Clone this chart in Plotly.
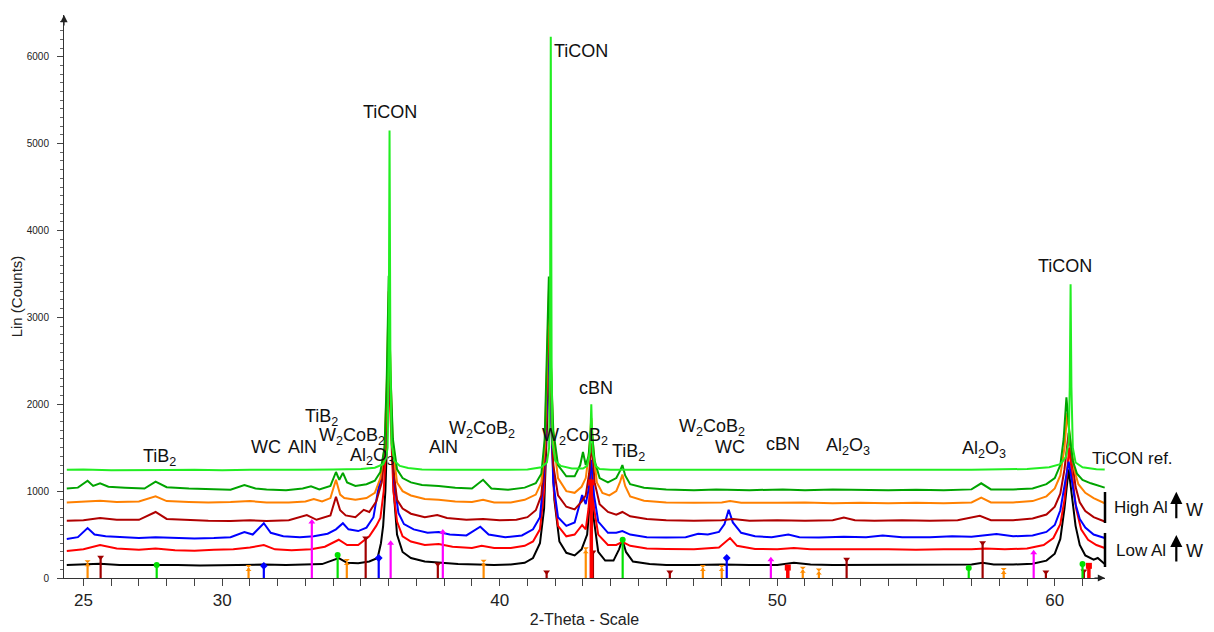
import plotly.graph_objects as go

# ---------------- data ----------------
# 2-theta (deg), counts  -- stacked XRD patterns (offset already included)
BLACK = [(24.4,150),(25.0,155),(25.6,165),(26.3,150),(27.0,150),(27.6,155),(28.4,150),(29.2,145),(30.0,150),
         (30.8,150),(31.5,155),(32.3,150),(33.0,155),(33.6,160),(34.2,230),(34.5,175),(34.9,170),(35.3,190),
         (35.6,230),(35.72,400),(35.8,600),(35.88,1000),(35.95,1700),(36.02,2500),(36.1,1800),(36.18,1000),
         (36.3,500),(36.5,300),(36.8,230),(37.3,190),(37.9,175),(38.5,160),(39.2,155),(39.8,150),(40.4,155),
         (40.9,175),(41.2,230),(41.45,400),(41.6,800),(41.7,1700),(41.8,2650),(41.88,1700),(41.97,900),
         (42.15,420),(42.4,290),(42.7,260),(42.95,330),(43.15,500),(43.28,1000),(43.38,700),(43.55,300),
         (43.8,200),(44.1,200),(44.3,330),(44.42,440),(44.55,300),(44.8,190),(45.4,160),(46.0,150),(47.0,150),
         (48.0,155),(49.0,150),(50.0,150),(50.6,175),(51.2,155),(52.0,150),(53.0,150),(54.0,150),(55.0,150),
         (56.0,150),(57.0,155),(57.4,175),(57.8,155),(58.5,155),(59.2,165),(59.7,200),(60.0,280),(60.2,450),
         (60.35,800),(60.5,1250),(60.62,950),(60.75,600),(60.9,380),(61.1,260),(61.4,210),(61.55,230),(61.8,160)]

RED = [(24.4,310),(25.0,330),(25.6,380),(26.2,340),(27.0,325),(27.6,340),(28.3,320),(29.0,315),(29.7,325),
       (30.4,330),(31.0,350),(31.5,380),(31.9,330),(32.5,320),(33.2,330),(33.7,360),(34.2,440),(34.5,380),
       (34.9,380),(35.3,480),(35.55,600),(35.7,690),(35.82,1000),(35.92,1600),(36.0,2400),(36.08,1700),
       (36.17,1000),(36.3,650),(36.5,480),(36.8,420),(37.3,380),(37.8,390),(38.3,360),(39.0,345),(39.35,370),
       (39.8,345),(40.4,345),(40.9,370),(41.2,420),(41.45,560),(41.6,1000),(41.7,1900),(41.78,2700),
       (41.86,1800),(41.95,1000),(42.1,600),(42.4,480),(42.7,500),(42.85,560),(42.97,610),(43.1,560),
       (43.2,800),(43.3,1250),(43.4,800),(43.55,500),(43.9,380),(44.2,380),(44.42,415),(44.7,370),(45.3,340),
       (46.0,335),(47.0,330),(47.9,350),(48.3,460),(48.55,370),(49.2,335),(50.0,330),(50.6,345),(51.2,330),
       (52.3,335),(53.0,330),(54.0,330),(55.0,325),(56.0,330),(57.0,330),(57.5,340),(58.2,330),(59.0,340),
       (59.6,380),(59.95,460),(60.2,620),(60.35,900),(60.52,1500),(60.62,1200),(60.77,800),(60.95,560),
       (61.2,440),(61.5,380),(61.8,345)]

BLUE = [(24.4,450),(24.8,470),(25.15,575),(25.4,500),(25.8,480),(26.4,470),(27.0,460),(27.6,470),(28.2,460),
        (29.0,455),(29.7,460),(30.3,470),(30.8,530),(31.1,500),(31.5,630),(31.75,520),(32.2,480),(32.8,470),
        (33.3,480),(33.8,510),(34.1,560),(34.35,630),(34.55,560),(34.9,540),(35.2,580),(35.45,700),(35.6,980),
        (35.75,1200),(35.88,1550),(35.95,2000),(36.02,2570),(36.1,1800),(36.2,1100),(36.35,750),(36.55,620),
        (36.9,560),(37.4,520),(37.8,530),(38.2,500),(38.8,490),(39.3,590),(39.6,500),(40.2,470),(40.8,490),
        (41.2,560),(41.45,700),(41.6,1200),(41.7,2000),(41.77,2820),(41.85,1900),(41.93,1100),(42.1,700),
        (42.4,600),(42.7,640),(42.85,800),(42.97,955),(43.1,850),(43.22,1050),(43.3,1360),(43.4,950),
        (43.55,650),(43.9,520),(44.2,520),(44.42,540),(44.7,500),(45.3,470),(46.0,465),(46.7,470),(47.15,510),
        (47.5,500),(47.9,530),(48.1,620),(48.25,785),(48.4,640),(48.7,520),(49.2,480),(49.8,470),(50.4,500),
        (50.8,470),(51.5,465),(52.4,475),(53.2,470),(53.8,490),(54.5,470),(55.5,470),(56.3,480),(57.0,475),
        (57.9,505),(58.5,480),(59.2,490),(59.7,530),(60.0,610),(60.2,780),(60.35,1050),(60.5,1340),
        (60.6,1150),(60.75,850),(60.9,680),(61.1,580),(61.4,500),(61.8,460)]

DARKRED = [(24.4,660),(25.0,665),(25.6,690),(26.2,670),(27.0,670),(27.6,760),(28.0,680),(28.8,665),(29.5,660),
           (30.3,655),(31.0,665),(31.6,655),(32.4,665),(33.05,725),(33.4,670),(33.9,720),(34.1,935),
           (34.25,780),(34.45,720),(34.8,700),(35.1,785),(35.3,760),(35.55,880),(35.75,1100),(35.88,1500),
           (35.95,2100),(36.0,2780),(36.07,2000),(36.15,1300),(36.3,900),(36.5,800),(36.8,740),(37.3,700),
           (37.75,725),(38.1,690),(38.8,670),(39.4,680),(40.0,665),(40.6,670),(41.0,700),(41.3,780),(41.5,950),
           (41.62,1400),(41.7,2200),(41.77,3090),(41.85,2100),(41.93,1300),(42.1,950),(42.4,820),(42.7,790),
           (42.95,880),(43.1,950),(43.22,1200),(43.32,1550),(43.42,1100),(43.6,850),(43.9,760),(44.2,730),
           (44.42,760),(44.7,710),(45.3,680),(46.0,665),(47.0,660),(48.0,665),(48.4,680),(49.0,660),(50.0,665),
           (51.0,660),(52.0,665),(52.4,695),(52.8,665),(53.5,660),(54.5,665),(55.5,660),(56.5,665),(57.3,715),
           (57.7,665),(58.5,665),(59.2,685),(59.7,730),(60.0,820),(60.2,970),(60.35,1250),(60.5,1670),
           (60.6,1400),(60.75,1050),(60.9,870),(61.1,770),(61.4,700),(61.8,650)]

ORANGE = [(24.4,870),(25.0,880),(25.6,890),(26.2,875),(27.0,880),(27.6,940),(28.0,885),(28.8,875),(29.5,870),
          (30.3,875),(31.0,885),(31.6,870),(32.4,870),(33.0,880),(33.3,910),(33.6,880),(33.9,920),(34.1,1130),
          (34.25,960),(34.4,920),(34.8,900),(35.2,920),(35.5,980),(35.7,1150),(35.85,1500),(35.93,2200),
          (36.0,3300),(36.07,2300),(36.15,1500),(36.3,1100),(36.5,1000),(36.8,950),(37.3,910),(37.8,900),
          (38.4,880),(39.0,875),(39.4,900),(39.8,870),(40.4,870),(40.9,900),(41.3,960),(41.5,1100),(41.62,1500),
          (41.7,2400),(41.78,3380),(41.85,2400),(41.93,1600),(42.1,1150),(42.4,1000),(42.7,980),(42.95,1050),
          (43.1,1150),(43.22,1450),(43.3,1840),(43.38,1450),(43.5,1100),(43.7,980),(43.95,950),(44.2,1000),
          (44.33,1100),(44.42,1190),(44.52,1060),(44.7,940),(45.2,890),(46.0,870),(47.0,865),(48.0,870),
          (48.3,885),(48.7,865),(50.0,865),(51.0,870),(52.0,860),(53.0,865),(54.0,860),(55.0,865),(56.0,860),
          (57.0,870),(57.35,925),(57.7,870),(58.5,870),(59.2,885),(59.7,940),(60.0,1030),(60.2,1180),
          (60.35,1500),(60.45,1900),(60.55,1600),(60.7,1250),(60.85,1080),(61.1,980),(61.4,920),(61.8,860)]

GREEN = [(24.4,1030),(24.8,1040),(25.15,1120),(25.35,1060),(25.6,1090),(25.9,1050),(26.5,1040),(27.2,1030),
         (27.6,1110),(28.0,1045),(28.8,1030),(29.5,1020),(30.3,1015),(30.8,1070),(31.2,1030),(31.6,1020),
         (32.3,1010),(32.9,1030),(33.2,1055),(33.5,1020),(33.9,1060),(34.1,1220),(34.22,1130),(34.35,1210),
         (34.5,1100),(34.8,1060),(35.2,1080),(35.5,1120),(35.7,1220),(35.85,1500),(35.93,2300),(36.0,3480),
         (36.06,2400),(36.15,1600),(36.3,1250),(36.5,1150),(36.8,1100),(37.2,1070),(37.8,1060),(38.4,1040),
         (39.0,1030),(39.4,1130),(39.7,1030),(40.3,1015),(40.9,1040),(41.3,1090),(41.5,1200),(41.62,1600),
         (41.7,2500),(41.77,3470),(41.84,2500),(41.93,1700),(42.1,1300),(42.4,1170),(42.7,1170),(42.9,1300),
         (43.0,1450),(43.1,1300),(43.2,1400),(43.3,1750),(43.42,1350),(43.6,1150),(43.9,1100),(44.2,1150),
         (44.33,1230),(44.42,1300),(44.52,1180),(44.7,1080),(45.2,1040),(46.0,1020),(47.0,1010),(47.8,1020),
         (48.2,1015),(49.0,1010),(50.2,1020),(51.0,1010),(52.0,1020),(53.0,1015),(54.0,1010),(55.0,1015),
         (56.0,1010),(57.0,1020),(57.35,1090),(57.7,1020),(58.5,1020),(59.2,1030),(59.7,1080),(60.0,1150),
         (60.2,1300),(60.32,1600),(60.42,2080),(60.52,1700),(60.65,1350),(60.8,1200),(61.0,1130),(61.3,1090),
         (61.6,1060),(61.8,1040)]

TICON_REF = [(24.4,1245),(25.0,1250),(26.0,1240),(27.0,1245),(28.0,1242),(29.0,1245),(30.0,1240),(31.0,1245),
             (32.0,1242),(33.0,1245),(34.0,1248),(35.0,1255),(35.5,1270),(35.8,1310),(35.9,1380),(35.96,1500),
             (36.0,2600),(36.03,5150),(36.06,2600),(36.1,1550),(36.2,1350),(36.4,1290),(36.7,1265),(37.2,1250),
             (38.0,1245),(39.0,1242),(40.0,1245),(41.0,1250),(41.5,1275),(41.7,1330),(41.78,1500),(41.81,2500),
             (41.84,6230),(41.87,2500),(41.9,1550),(42.0,1350),(42.2,1290),(42.6,1260),(43.0,1260),(43.15,1290),
             (43.25,1450),(43.3,2000),(43.35,1450),(43.45,1290),(43.6,1255),(44.0,1245),(45.0,1245),(47.0,1242),
             (50.0,1245),(53.0,1242),(55.0,1245),(57.0,1245),(59.0,1255),(59.8,1275),(60.2,1310),(60.4,1390),
             (60.5,1560),(60.54,2200),(60.57,3380),(60.6,2200),(60.65,1500),(60.75,1330),(61.0,1275),
             (61.5,1252),(61.8,1248)]

SERIES = [("black", BLACK, "#000000"), ("red", RED, "#ff0000"), ("blue", BLUE, "#0000ff"),
          ("darkred", DARKRED, "#b00000"), ("orange", ORANGE, "#ff8000"), ("green", GREEN, "#00a400"),
          ("TiCON ref.", TICON_REF, "#22ee22")]

# reference stick patterns: (2theta, height)
STICKS = {
    "orange":  ([25.15, 30.95, 34.49, 39.42, 43.10, 47.32, 48.00, 50.92, 51.50, 58.16],
                [170, 115, 185, 175, 320, 115, 115, 95, 75, 80], "#ff8c00", "hourglass"),
    "darkred": ([25.62, 35.17, 37.77, 41.69, 43.36, 46.13, 52.50, 57.40, 59.68, 61.05],
                [240, 460, 160, 70, 300, 70, 215, 405, 70, 80], "#a00000", "triangle-down"),
    "green":   ([27.64, 34.16, 44.43, 56.90, 61.00],
                [150, 265, 440, 115, 160], "#00e000", "circle"),
    "blue":    ([31.50, 35.64, 48.18],
                [140, 230, 230], "#0000ff", "diamond"),
    "magenta": ([33.23, 36.07, 37.95, 49.77, 59.24],
                [645, 400, 530, 210, 290], "#ff00ff", "triangle-up"),
    "red":     ([43.30, 50.38, 61.23],
                [1100, 120, 140], "#ff0000", "square"),
}

LABELS = [("TiB<sub>2</sub>", 27.75, 1382), ("WC", 31.57, 1509), ("AlN", 32.9, 1509),
          ("TiB<sub>2</sub>", 33.59, 1843), ("W<sub>2</sub>CoB<sub>2</sub>", 34.67, 1624),
          ("Al<sub>2</sub>O<sub>3</sub>", 35.39, 1394), ("TiCON", 36.04, 5369), ("AlN", 37.98, 1509),
          ("W<sub>2</sub>CoB<sub>2</sub>", 39.35, 1705), ("TiCON", 42.92, 6060),
          ("W<sub>2</sub>CoB<sub>2</sub>", 42.7, 1624), ("cBN", 43.46, 2189), ("TiB<sub>2</sub>", 44.65, 1440),
          ("W<sub>2</sub>CoB<sub>2</sub>", 47.64, 1728), ("WC", 48.29, 1509), ("cBN", 50.2, 1544),
          ("Al<sub>2</sub>O<sub>3</sub>", 52.54, 1509), ("Al<sub>2</sub>O<sub>3</sub>", 57.44, 1475),
          ("TiCON", 60.36, 3594)]

X_TICKS = list(range(25, 62))
X_TICK_TEXT = [str(v) if v in (25, 30, 40, 50, 60) else "" for v in X_TICKS]
Y_TICKS = [0, 1000, 2000, 3000, 4000, 5000, 6000]

# ---------------- figure ----------------
FONT = "Liberation Sans, Arial, sans-serif"
fig = go.Figure()

for name, pts, col in SERIES:
    fig.add_trace(go.Scatter(x=[p[0] for p in pts], y=[p[1] for p in pts], mode="lines", name=name,
                             line=dict(color=col, width=2.0), showlegend=False))

for name, (xs, hs, col, sym) in STICKS.items():
    lx, ly = [], []
    for x, h in zip(xs, hs):
        lx += [x, x, None]
        ly += [0, h, None]
    fig.add_trace(go.Scatter(x=lx, y=ly, mode="lines", line=dict(color=col, width=2.2 if name != "red" else 3.5),
                             hoverinfo="skip", showlegend=False))
    fig.add_trace(go.Scatter(x=xs, y=hs, mode="markers", marker=dict(color=col, symbol=sym, size=6),
                             hoverinfo="skip", showlegend=False))

ann = []
for txt, x, y in LABELS:
    ann.append(dict(x=x, y=y, xref="x", yref="y", text=txt, showarrow=False,
                    font=dict(size=18, color="#111", family=FONT), xanchor="center", yanchor="middle"))

# right-hand side texts
for txt, px, py, size in [("TiCON ref.", 0.9856, 0.2114, 17), ("High Al", 1.0067, 0.126, 17),
                          ("W", 1.0755, 0.121, 18), ("Low Al", 1.0086, 0.0497, 17), ("W", 1.0755, 0.048, 18)]:
    ann.append(dict(x=px, y=py, xref="paper", yref="paper", text=txt, showarrow=False, xanchor="left",
                    yanchor="middle", font=dict(size=size, color="#111", family=FONT)))
# up arrows for W
for y1 in [0.153, 0.0764]:
    ann.append(dict(x=1.0685, y=y1, xref="paper", yref="paper", ax=0, ay=28,
                    showarrow=True, arrowhead=2, arrowsize=1.1, arrowwidth=2.2, arrowcolor="#000", text=""))
# axis arrows
ann.append(dict(x=0, y=1, xref="paper", yref="paper", ax=0, ay=12, showarrow=True, arrowhead=2,
                arrowsize=1.2, arrowwidth=1.2, arrowcolor="#222", text=""))
ann.append(dict(x=1, y=0, xref="paper", yref="paper", ax=-12, ay=0, showarrow=True, arrowhead=2,
                arrowsize=1.2, arrowwidth=1.2, arrowcolor="#222", text=""))

shapes = [dict(type="line", xref="paper", yref="paper", x0=1.0, x1=1.0, y0=0.0977, y1=0.1528,
               line=dict(color="#000", width=2.5)),
          dict(type="line", xref="paper", yref="paper", x0=1.0, x1=1.0, y0=0.0195, y1=0.080,
               line=dict(color="#000", width=2.5))]

# the html page places the figure 8px from the top-left corner (body margin)
fig.update_layout(
    width=1206, height=624, margin=dict(l=56, r=109, t=7, b=54, autoexpand=False),
    paper_bgcolor="white", plot_bgcolor="white",
    font=dict(family=FONT, color="#222"),
    annotations=ann, shapes=shapes,
    xaxis=dict(range=[24.3, 61.81], tickvals=X_TICKS, ticktext=X_TICK_TEXT, ticks="outside", ticklen=7,
               tickcolor="#444", showline=True, linecolor="#333", linewidth=1, showgrid=False, zeroline=False,
               tickfont=dict(size=17, color="#222"), automargin=False,
               title=dict(text="2-Theta - Scale", font=dict(size=16, color="#222"), standoff=4)),
    yaxis=dict(range=[0, 6480], tickvals=Y_TICKS, ticks="outside", ticklen=6, tickcolor="#444",
               showline=True, linecolor="#333", linewidth=1, showgrid=False, zeroline=False,
               tickfont=dict(size=10, color="#222"), automargin=False, ticklabelstandoff=6,
               minor=dict(dtick=100, ticks="outside", ticklen=3, tickcolor="#666"),
               title=dict(text="Lin (Counts)", font=dict(size=15, color="#222"), standoff=10)),
)

fig.write_html("out.html")
